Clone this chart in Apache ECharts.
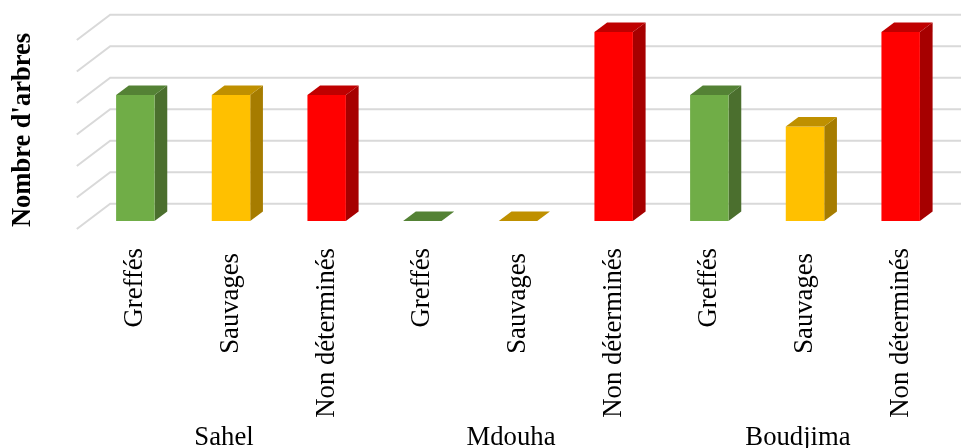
<!DOCTYPE html>
<html>
<head>
<meta charset="utf-8">
<style>html,body{margin:0;padding:0;background:#fff}#chart{width:961px;height:448px}</style>
<script src="https://cdn.jsdelivr.net/npm/echarts@6/dist/echarts.min.js"></script>
</head>
<body>
<div id="chart"></div>
<script>
// Tree counts per site, split by origin
const sites = ['Sahel', 'Mdouha', 'Boudjima'];
const origins = ['Greffés', 'Sauvages', 'Non déterminés'];
const greffes = [4, 0, 4];
const sauvages = [4, 0, 3];
const nonDetermines = [4, 6, 6];
const gridTicks = [0, 1, 2, 3, 4, 5, 6];

// front, top and side shades of each origin
const greenShades = ['#70AD47', '#548235', '#4B6F2E'];
const amberShades = ['#FFC000', '#BF9000', '#A67C00'];
const redShades = ['#FF0000', '#BF0000', '#A60000'];

// oblique projection offsets, measured from the plane holding the bar fronts
const WALL = { x: 22.7, y: -17.3 };
const FLOOR = { x: -10.7, y: 8 };
const BAR_DEPTH = { x: 12.7, y: -9.6 };
const BAR_WIDTH = 0.402;

const axisLabels = sites.flatMap(() => origins);

function wallLine(params, api) {
  const p = api.coord([0, api.value(0)]);
  const left = p[0] - api.size([1, 0])[0] / 2;
  const bandEnd = left + api.size([1, 0])[0] * axisLabels.length;
  return {
    type: 'polyline',
    silent: true,
    shape: { points: [
      [left + FLOOR.x, p[1] + FLOOR.y],
      [left + WALL.x, p[1] + WALL.y],
      [bandEnd + WALL.x, p[1] + WALL.y]
    ] },
    style: { fill: 'none', stroke: '#D9D9D9', lineWidth: 2 }
  };
}

function bar3d(shades, slot) {
  return function (params, api) {
    const index = params.dataIndex * origins.length + slot;
    const top = api.coord([index, api.value(0)]);
    const base = api.coord([index, 0]);
    const w = api.size([1, 0])[0] * BAR_WIDTH;
    const x0 = top[0] - w / 2, x1 = top[0] + w / 2;
    const d = BAR_DEPTH;
    const children = [];
    if (top[1] < base[1]) {
      children.push({
        type: 'polygon',
        shape: { points: [[x1, top[1]], [x1 + d.x, top[1] + d.y], [x1 + d.x, base[1] + d.y], [x1, base[1]]] },
        style: { fill: shades[2] }
      });
      children.push({
        type: 'rect',
        shape: { x: x0, y: top[1], width: w, height: base[1] - top[1] },
        style: { fill: shades[0] }
      });
    }
    children.push({
      type: 'polygon',
      shape: { points: [[x0, top[1]], [x1, top[1]], [x1 + d.x, top[1] + d.y], [x0 + d.x, top[1] + d.y]] },
      style: { fill: shades[1] }
    });
    return { type: 'group', children };
  };
}

const serif = '"Liberation Serif", "Times New Roman", serif';
const chart = echarts.init(document.getElementById('chart'), null, { renderer: 'canvas' });
chart.setOption({
  animation: false,
  backgroundColor: '#ffffff',
  grid: { left: 87.5, right: 12.5, top: 32, height: 189, containLabel: false, outerBoundsMode: 'none' },
  xAxis: [
    {
      type: 'category',
      data: axisLabels.map((t, i) => ({
        value: i + '|' + t,
        // the middle label of each site sits a little further from the axis
        textStyle: { padding: [0, t === origins[1] ? 5 : 0, 4, 0] }
      })),
      axisLine: { show: false },
      axisTick: { show: false },
      axisLabel: {
        interval: 0, rotate: 90, margin: 27, color: '#000',
        fontFamily: serif, fontSize: 26.7,
        formatter: v => v.split('|')[1]
      }
    },
    {
      type: 'category',
      position: 'bottom',
      data: sites,
      axisLine: { show: false },
      axisTick: { show: false },
      axisLabel: {
        interval: 0, margin: 203, color: '#000',
        fontFamily: serif, fontSize: 26.7, padding: [0, 14, 0, 0]
      }
    }
  ],
  yAxis: {
    type: 'value', min: 0, max: 6, interval: 1,
    name: "Nombre d'arbres",
    nameLocation: 'middle', nameRotate: 90, nameGap: 51,
    nameTextStyle: { color: '#000', fontFamily: serif, fontSize: 26.5, fontWeight: 'bold', padding: [0, 7, 0, 0] },
    axisLine: { show: false },
    axisTick: { show: false },
    axisLabel: { show: false },
    splitLine: { show: false }
  },
  series: [
    { type: 'custom', name: 'Grille', data: gridTicks, renderItem: wallLine, clip: false, silent: true, encode: { y: 0 } },
    { type: 'custom', name: origins[0], data: greffes, renderItem: bar3d(greenShades, 0), clip: false, encode: { y: 0 } },
    { type: 'custom', name: origins[1], data: sauvages, renderItem: bar3d(amberShades, 1), clip: false, encode: { y: 0 } },
    { type: 'custom', name: origins[2], data: nonDetermines, renderItem: bar3d(redShades, 2), clip: false, encode: { y: 0 } }
  ]
});
</script>
</body>
</html>
